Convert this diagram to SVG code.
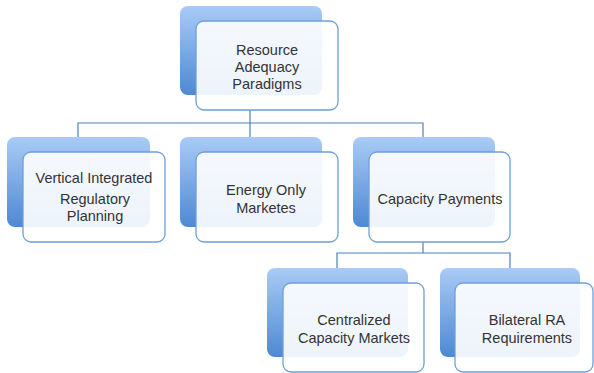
<svg xmlns="http://www.w3.org/2000/svg" width="594" height="373" viewBox="0 0 594 373">
<defs>
<linearGradient id="g" x1="0" y1="0" x2="0" y2="1">
<stop offset="0" stop-color="#a9cbf6"/>
<stop offset="1" stop-color="#4d89d2"/>
</linearGradient>
<style>
.back{fill:url(#g);}
.front{fill:#ffffff;fill-opacity:0.9;stroke:#6d9fd9;stroke-width:1.3;}
.t{font-family:"Liberation Sans",Arial,sans-serif;font-size:14.5px;fill:#333333;text-anchor:middle;}
.c{fill:none;stroke:#4f7fbf;stroke-width:1.2;}
</style>
</defs>
<rect width="594" height="373" fill="#ffffff"/>
<g id="connectors">
<path class="c" d="M250,110 V123 M78,137 V123 H423 V137 M250,123 V137"/>
<path class="c" d="M423,241 V253 M337,268 V253 H510 V268"/>
</g>
<g id="root">
<rect class="back" x="180" y="6" width="142" height="89" rx="8"/>
<rect class="front" x="196" y="21" width="142" height="89" rx="8"/>
<text class="t" x="267" y="55">Resource</text>
<text class="t" x="267" y="72">Adequacy</text>
<text class="t" x="267" y="89">Paradigms</text>
</g>
<g id="vertical">
<rect class="back" x="7" y="137" width="143" height="90" rx="8"/>
<rect class="front" x="23" y="152" width="142" height="90" rx="8"/>
<text class="t" x="94" y="183">Vertical Integrated</text>
<text class="t" x="95" y="204">Regulatory</text>
<text class="t" x="95" y="221">Planning</text>
</g>
<g id="energy">
<rect class="back" x="180" y="137" width="142" height="90" rx="8"/>
<rect class="front" x="196" y="152" width="142" height="90" rx="8"/>
<text class="t" x="266" y="195">Energy Only</text>
<text class="t" x="266" y="213">Marketes</text>
</g>
<g id="capacity">
<rect class="back" x="353" y="137" width="142" height="90" rx="8"/>
<rect class="front" x="369" y="152" width="141" height="90" rx="8"/>
<text class="t" x="440" y="204">Capacity Payments</text>
</g>
<g id="centralized">
<rect class="back" x="267" y="268" width="141" height="89" rx="8"/>
<rect class="front" x="283" y="283" width="141" height="89" rx="8"/>
<text class="t" x="354" y="325">Centralized</text>
<text class="t" x="354" y="343">Capacity Markets</text>
</g>
<g id="bilateral">
<rect class="back" x="440" y="268" width="140" height="89" rx="8"/>
<rect class="front" x="455" y="283" width="138" height="89" rx="8"/>
<text class="t" x="527" y="325">Bilateral RA</text>
<text class="t" x="527" y="343">Requirements</text>
</g>
</svg>
